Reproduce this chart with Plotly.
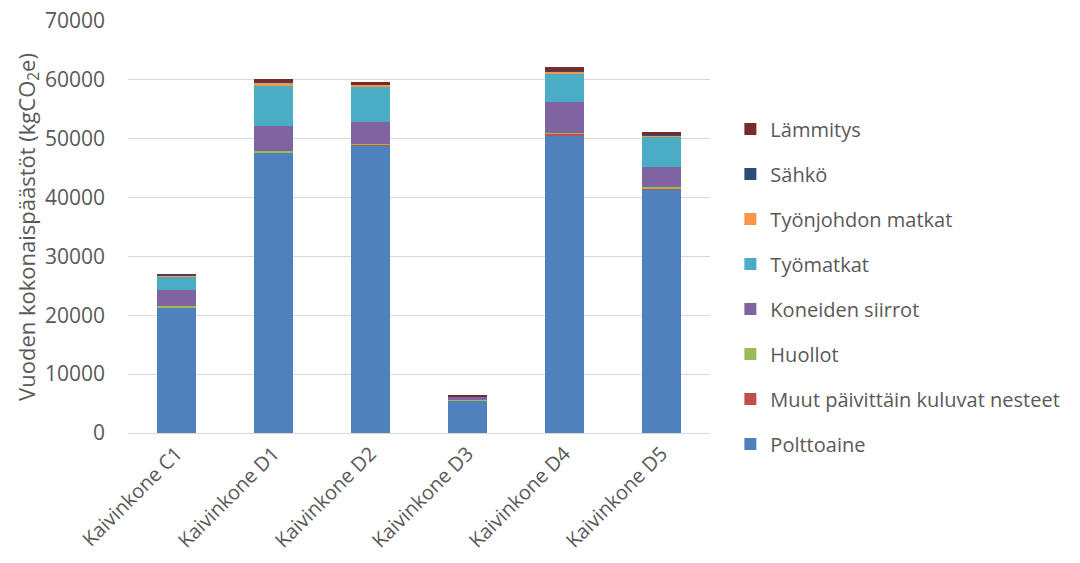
import plotly.graph_objects as go

categories = ["Kaivinkone C1", "Kaivinkone D1", "Kaivinkone D2", "Kaivinkone D3", "Kaivinkone D4", "Kaivinkone D5"]

polttoaine = [21300, 47600, 48900, 5450, 50600, 41400]
muut_nesteet = [100, 100, 80, 40, 250, 150]
huollot = [150, 200, 150, 40, 60, 200]
koneiden_siirrot = [2700, 4200, 3700, 700, 5400, 3400]
tyomatkat = [2400, 6900, 5900, 0, 4700, 5100]
tyonjohdon_matkat = [150, 500, 400, 30, 340, 340]
sahko = [50, 60, 50, 10, 80, 50]
lammitys = [150, 550, 500, 70, 700, 520]

series_names = ["Polttoaine", "Muut päivittäin kuluvat nesteet", "Huollot", "Koneiden siirrot",
                "Työmatkat", "Työnjohdon matkat", "Sähkö", "Lämmitys"]
series_values = [polttoaine, muut_nesteet, huollot, koneiden_siirrot, tyomatkat,
                 tyonjohdon_matkat, sahko, lammitys]
colors = ["#4F81BD", "#C0504D", "#9BBB59", "#8064A2", "#4BACC6", "#F79646", "#2C4D75", "#772C2A"]

y_ticks = [0, 10000, 20000, 30000, 40000, 50000, 60000, 70000]

font_family = "Open Sans, Liberation Sans, sans-serif"
text_color = "#595959"

fig = go.Figure()
n = len(series_names)
for i, (name, vals, col) in enumerate(zip(series_names, series_values, colors)):
    fig.add_trace(go.Bar(
        x=categories, y=vals, name=name,
        marker=dict(color=col, line=dict(width=0)),
        legendgroup=name,
        legendrank=n - i,
    ))

fig.update_layout(
    barmode="stack",
    bargap=0.6,
    width=1080, height=563,
    margin=dict(l=128, r=370, t=21, b=130),
    plot_bgcolor="white", paper_bgcolor="white",
    font=dict(family=font_family, size=20, color=text_color),
    legend=dict(
        traceorder="grouped",
        x=1.035, xanchor="left", y=0.785, yanchor="top",
        font=dict(size=20, color=text_color),
        tracegroupgap=16,
        itemwidth=30,
    ),
    yaxis=dict(
        range=[0, 70000],
        tickvals=y_ticks,
        ticktext=[str(v) for v in y_ticks],
        gridcolor="#D9D9D9", gridwidth=1,
        zeroline=False,
        showline=False,
        automargin=False,
        ticklabelstandoff=22,
        tickfont=dict(size=21, color=text_color),
        title=dict(text="Vuoden kokonaispäästöt (kgCO<sub>2</sub>e)",
                   font=dict(size=22, color=text_color), standoff=3),
    ),
    xaxis=dict(
        tickangle=-45,
        showline=True, linecolor="#D9D9D9", linewidth=1,
        ticks="",
        automargin=False,
        tickfont=dict(size=20, color=text_color),
    ),
)

fig.write_html("out.html")
